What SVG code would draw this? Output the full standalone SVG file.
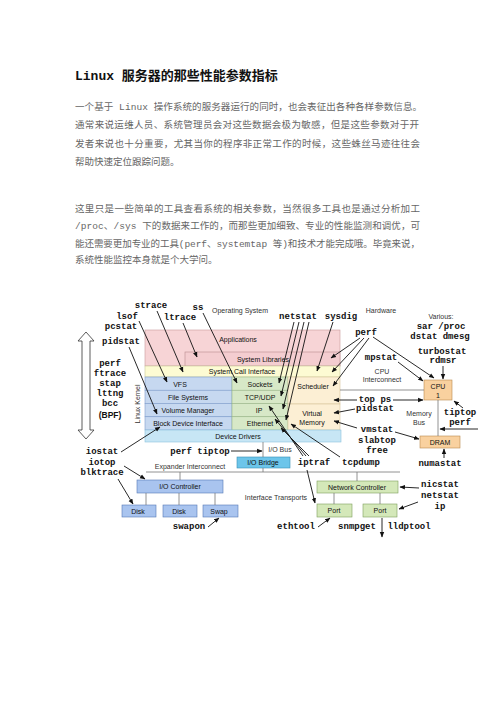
<svg xmlns="http://www.w3.org/2000/svg" width="496" height="702" viewBox="0 0 496 702">
<defs>
<marker id="ah" viewBox="0 0 10 10" refX="9" refY="5" markerWidth="5.5" markerHeight="5.5" markerUnits="userSpaceOnUse" orient="auto"><path d="M0,1 L10,5 L0,9 z" fill="#111"/></marker>
<style>
.title{font-family:"Liberation Mono","Noto Sans CJK SC",monospace;font-weight:bold;font-size:13px;fill:#111}
.p{font-family:"Liberation Mono","Noto Sans CJK SC",monospace;font-size:9.5px;fill:#666}
.tool{font-family:"Liberation Mono",monospace;font-weight:bold;font-size:9px;fill:#111;text-anchor:middle;dominant-baseline:central}
.bpf{font-family:"Liberation Sans",sans-serif;font-weight:bold;font-size:8.5px;fill:#111;text-anchor:middle;dominant-baseline:central}
.lbl{font-family:"Liberation Sans",Arial,sans-serif;font-size:7px;fill:#111;text-anchor:middle;dominant-baseline:central}
.note{font-family:"Liberation Sans",Arial,sans-serif;font-size:7px;fill:#333;text-anchor:middle;dominant-baseline:central}
.arr line{stroke:#111;stroke-width:0.9;fill:none;marker-end:url(#ah)}
.bus line{stroke:#777;stroke-width:0.8}
.bx{stroke-width:0.6}
.k-l{fill:#c6d8f0;stroke:#7f9dcc}
.k-m{fill:#d7e8c7;stroke:#98b588}
.k-r{fill:#fcefd4;stroke:#d6c39a}
.hw-o{fill:#f9d19f;stroke:#b98a4f}
.hw-b{fill:#a9c4ef;stroke:#5679b5}
.hw-g{fill:#d4e8b9;stroke:#7d9e5d}
</style>
</defs>
<rect width="496" height="702" fill="#fff"/>

<g id="text-block">
<text class="title" x="75" y="80">Linux 服务器的那些性能参数指标</text>
<text class="p" x="75" y="110" textLength="347" lengthAdjust="spacing">一个基于 Linux 操作系统的服务器运行的同时，也会表征出各种各样参数信息。</text>
<text class="p" x="75" y="128.3" textLength="344" lengthAdjust="spacing">通常来说运维人员、系统管理员会对这些数据会极为敏感，但是这些参数对于开</text>
<text class="p" x="75" y="146.7" textLength="345" lengthAdjust="spacing">发者来说也十分重要，尤其当你的程序非正常工作的时候，这些蛛丝马迹往往会</text>
<text class="p" x="75" y="164.5">帮助快速定位跟踪问题。</text>
<text class="p" x="75" y="212" textLength="345" lengthAdjust="spacing">这里只是一些简单的工具查看系统的相关参数，当然很多工具也是通过分析加工</text>
<text class="p" x="75" y="229" textLength="345" lengthAdjust="spacing">/proc、/sys 下的数据来工作的，而那些更加细致、专业的性能监测和调优，可</text>
<text class="p" x="75" y="246.5" textLength="345" lengthAdjust="spacing">能还需要更加专业的工具(perf、systemtap 等)和技术才能完成哦。毕竟来说，</text>
<text class="p" x="75" y="263">系统性能监控本身就是个大学问。</text>
</g>

<g id="kernel-arrow"><polygon points="86,332 94,341 90,341 90,430 94,430 86,439 78,430 82,430 82,341 78,341" fill="#fff" stroke="#333" stroke-width="0.8"/></g>

<g id="applications"><rect class="bx" x="145" y="330" width="195" height="36" fill="#f7d4d6" stroke="#c9999c"/><text class="lbl" x="238" y="339.5">Applications</text></g>
<g id="system-libraries"><rect class="bx" x="185" y="352" width="155" height="14" fill="#f4cdd0" stroke="#b88a8e"/><text class="lbl" x="263" y="359">System Libraries</text></g>
<g id="system-call-interface"><rect class="bx" x="145" y="366" width="195" height="11" fill="#fdfbd3" stroke="#c8c89a"/><text class="lbl" x="242" y="371.5">System Call Interface</text></g>
<g id="vfs"><rect class="bx k-l" x="145" y="377" width="87" height="13.25"/><text class="lbl" x="180" y="384">VFS</text></g>
<g id="file-systems"><rect class="bx k-l" x="145" y="390.25" width="87" height="13.25"/><text class="lbl" x="188" y="397">File Systems</text></g>
<g id="volume-manager"><rect class="bx k-l" x="145" y="403.5" width="87" height="13.25"/><text class="lbl" x="188" y="410">Volume Manager</text></g>
<g id="block-device-interface"><rect class="bx k-l" x="145" y="416.75" width="87" height="13.25"/><text class="lbl" x="188" y="423.3">Block Device Interface</text></g>
<g id="sockets"><rect class="bx k-m" x="232" y="377" width="56" height="13.25"/><text class="lbl" x="260" y="384">Sockets</text></g>
<g id="tcp-udp"><rect class="bx k-m" x="232" y="390.25" width="56" height="13.25"/><text class="lbl" x="260" y="397">TCP/UDP</text></g>
<g id="ip"><rect class="bx k-m" x="232" y="403.5" width="56" height="13.25"/><text class="lbl" x="259" y="410">IP</text></g>
<g id="ethernet"><rect class="bx k-m" x="232" y="416.75" width="56" height="13.25"/><text class="lbl" x="260" y="423.3">Ethernet</text></g>
<g id="scheduler"><rect class="bx k-r" x="288" y="377" width="52" height="27"/><text class="lbl" x="313" y="386.5">Scheduler</text></g>
<g id="virtual-memory"><rect class="bx k-r" x="288" y="404" width="52" height="26"/><text class="lbl" x="312" y="413">Virtual</text><text class="lbl" x="312" y="422">Memory</text></g>
<g id="device-drivers"><rect class="bx" x="145" y="430" width="196" height="12" fill="#c7e6f5" stroke="#8cc2dc"/><text class="lbl" x="238" y="436">Device Drivers</text></g>

<g id="cpu"><rect class="bx hw-o" x="424" y="380" width="28" height="20"/><text class="lbl" x="438" y="386.5">CPU</text><text class="lbl" x="438" y="395">1</text></g>
<g id="dram"><rect class="bx hw-o" x="420" y="436" width="40" height="12"/><text class="lbl" x="440" y="442">DRAM</text></g>
<g id="io-bridge"><rect class="bx" x="237" y="457" width="53" height="11" fill="#6cc5ea" stroke="#3b8fb5"/><text class="lbl" x="263" y="462.5">I/O Bridge</text></g>
<g id="io-controller"><rect class="bx hw-b" x="137" y="480" width="86" height="13"/><text class="lbl" x="180" y="486.5">I/O Controller</text></g>
<g id="disk1"><rect class="bx hw-b" x="122" y="505" width="34" height="12"/><text class="lbl" x="138" y="511">Disk</text></g>
<g id="disk2"><rect class="bx hw-b" x="163" y="505" width="34" height="12"/><text class="lbl" x="179" y="511">Disk</text></g>
<g id="swap"><rect class="bx hw-b" x="203" y="505" width="35" height="12"/><text class="lbl" x="219" y="511">Swap</text></g>
<g id="network-controller"><rect class="bx hw-g" x="317" y="481" width="81" height="12"/><text class="lbl" x="357" y="487">Network Controller</text></g>
<g id="port1"><rect class="bx hw-g" x="317" y="504" width="35" height="13"/><text class="lbl" x="334" y="510.5">Port</text></g>
<g id="port2"><rect class="bx hw-g" x="363" y="504" width="34" height="13"/><text class="lbl" x="380" y="510.5">Port</text></g>

<g id="connectors">
<g class="bus">
<line x1="340" y1="390" x2="424" y2="390"/>
<line x1="438" y1="400" x2="438" y2="436"/>
<line x1="263" y1="442" x2="263" y2="457"/>
<line x1="146" y1="472" x2="400" y2="472"/>
<line x1="263" y1="468" x2="263" y2="472"/>
<line x1="180" y1="472" x2="180" y2="480"/>
<line x1="357" y1="472" x2="357" y2="481"/>
<line x1="146" y1="493" x2="146" y2="505"/>
<line x1="179" y1="493" x2="179" y2="505"/>
<line x1="215" y1="493" x2="215" y2="505"/>
<line x1="334" y1="493" x2="334" y2="504"/>
<line x1="380" y1="493" x2="380" y2="504"/>
</g>
<g class="arr">
<line x1="157" y1="311" x2="183" y2="372"/>
<line x1="139" y1="321" x2="167" y2="382"/>
<line x1="183" y1="323" x2="197" y2="357"/>
<line x1="129" y1="347" x2="157" y2="414"/>
<line x1="203" y1="313" x2="237" y2="383"/>
<line x1="294" y1="322" x2="279" y2="383"/>
<line x1="299" y1="322" x2="281" y2="396"/>
<line x1="304" y1="322" x2="283" y2="409"/>
<line x1="309" y1="322" x2="286" y2="420"/>
<line x1="333" y1="322" x2="317" y2="371"/>
<line x1="360" y1="338" x2="331" y2="358"/>
<line x1="364" y1="338" x2="332" y2="372"/>
<line x1="369" y1="338" x2="333" y2="386"/>
<line x1="373" y1="337" x2="434" y2="378"/>
<line x1="443" y1="366" x2="443" y2="379"/>
<line x1="398" y1="362" x2="423" y2="381"/>
<line x1="357" y1="400" x2="334" y2="400"/>
<line x1="393" y1="400" x2="423" y2="400"/>
<line x1="355" y1="409" x2="334" y2="413"/>
<line x1="357" y1="428" x2="334" y2="421"/>
<line x1="395" y1="432" x2="419" y2="439"/>
<line x1="463" y1="408" x2="454" y2="401"/>
<line x1="478" y1="429" x2="440" y2="429"/>
<line x1="444" y1="458" x2="444" y2="449"/>
<line x1="121" y1="452" x2="160" y2="427"/>
<line x1="124" y1="466" x2="145" y2="479"/>
<line x1="118" y1="479" x2="133" y2="504"/>
<line x1="231" y1="451" x2="262" y2="451"/>
<line x1="303" y1="456" x2="269" y2="406"/>
<line x1="306" y1="456" x2="275" y2="419"/>
<line x1="309" y1="456" x2="281" y2="428"/>
<line x1="340" y1="457" x2="291" y2="424"/>
<line x1="307" y1="470" x2="315" y2="503"/>
<line x1="419" y1="488" x2="400" y2="487"/>
<line x1="418" y1="502" x2="399" y2="509"/>
<line x1="318" y1="527" x2="330" y2="518"/>
<line x1="382" y1="518" x2="382" y2="537"/>
<line x1="208" y1="527" x2="219" y2="518"/>
</g>
</g>

<g id="labels">
<text class="note" x="240" y="310">Operating System</text>
<text class="note" x="381" y="310">Hardware</text>
<text class="note" x="441" y="316">Various:</text>
<text class="note" x="382" y="371">CPU</text>
<text class="note" x="382" y="379">Interconnect</text>
<text class="note" x="419" y="413">Memory</text>
<text class="note" x="419" y="422">Bus</text>
<text class="note" x="280" y="449">I/O Bus</text>
<text class="note" x="190" y="466">Expander Interconnect</text>
<text class="note" x="276" y="497">Interface Transports</text>
<text class="note" transform="translate(137.5,404) rotate(-90)">Linux Kernel</text>
</g>

<g id="tools">
<text class="tool" x="151" y="306">strace</text>
<text class="tool" x="198" y="308">ss</text>
<text class="tool" x="127" y="317">lsof</text>
<text class="tool" x="180" y="318">ltrace</text>
<text class="tool" x="121" y="327">pcstat</text>
<text class="tool" x="121" y="342">pidstat</text>
<text class="tool" x="110" y="364">perf</text>
<text class="tool" x="110" y="374">ftrace</text>
<text class="tool" x="110" y="384">stap</text>
<text class="tool" x="110" y="394">lttng</text>
<text class="tool" x="110" y="404">bcc</text>
<text class="bpf" x="110" y="415">(BPF)</text>
<text class="tool" x="298" y="317">netstat</text>
<text class="tool" x="341" y="317">sysdig</text>
<text class="tool" x="366" y="333">perf</text>
<text class="tool" x="441" y="327">sar /proc</text>
<text class="tool" x="440" y="337">dstat dmesg</text>
<text class="tool" x="442" y="352">turbostat</text>
<text class="tool" x="443" y="361">rdmsr</text>
<text class="tool" x="381" y="358">mpstat</text>
<text class="tool" x="375" y="400">top ps</text>
<text class="tool" x="375" y="409">pidstat</text>
<text class="tool" x="460" y="413">tiptop</text>
<text class="tool" x="460" y="423">perf</text>
<text class="tool" x="377" y="430">vmstat</text>
<text class="tool" x="377" y="441">slabtop</text>
<text class="tool" x="377" y="451">free</text>
<text class="tool" x="440" y="464">numastat</text>
<text class="tool" x="102" y="452">iostat</text>
<text class="tool" x="102" y="463">iotop</text>
<text class="tool" x="102" y="473">blktrace</text>
<text class="tool" x="200" y="452">perf tiptop</text>
<text class="tool" x="314" y="463">iptraf</text>
<text class="tool" x="361" y="463">tcpdump</text>
<text class="tool" x="440" y="485">nicstat</text>
<text class="tool" x="440" y="496">netstat</text>
<text class="tool" x="440" y="507">ip</text>
<text class="tool" x="296" y="527">ethtool</text>
<text class="tool" x="357" y="527">snmpget</text>
<text class="tool" x="409" y="527">lldptool</text>
<text class="tool" x="189" y="527">swapon</text>
</g>
</svg>
